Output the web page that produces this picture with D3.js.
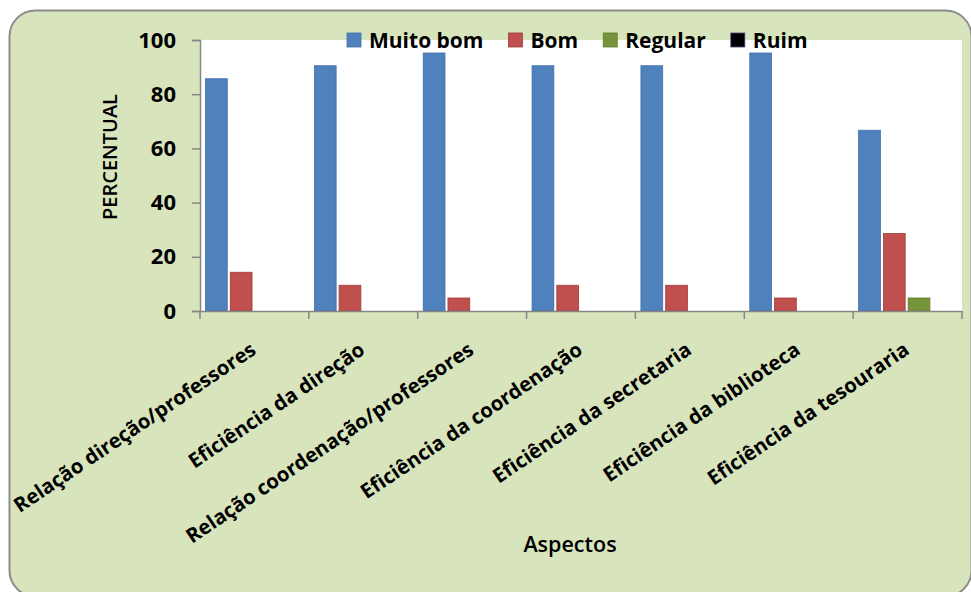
<!DOCTYPE html>
<html>
<head>
<meta charset="utf-8">
<script src="https://cdn.jsdelivr.net/npm/d3@7"></script>
<style>
  body { margin: 0; background: #fff; }
  text { font-family: "Open Sans", "DejaVu Sans", sans-serif; font-weight: 700; fill: #000; }
</style>
</head>
<body>
<svg class="chart" width="971" height="592"></svg>
<script>
const categories = ["Relação direção/professores", "Eficiência da direção", "Relação coordenação/professores",
  "Eficiência da coordenação", "Eficiência da secretaria", "Eficiência da biblioteca", "Eficiência da tesouraria"]
const seriesNames = ["Muito bom", "Bom", "Regular", "Ruim"]
const muitoBom = [85.7, 90.5, 95.2, 90.5, 90.5, 95.2, 66.7]
const bom = [14.3, 9.5, 4.8, 9.5, 9.5, 4.8, 28.6]
const regular = [0, 0, 0, 0, 0, 0, 4.8]
const ruim = [0, 0, 0, 0, 0, 0, 0]
const yTicks = [0, 20, 40, 60, 80, 100]

const colors = ["#4f81bd", "#c0504d", "#77933c", "#000000"]
const strokes = ["#3f6fa8", "#9c3b38", "#5f7a2e", "#000000"]

const values = [muitoBom, bom, regular, ruim]
const data = categories.map((c, i) => ({
  cat: c,
  vals: seriesNames.map((s, j) => ({ key: s, idx: j, value: values[j][i] }))
}))

var margin = { left: 200, top: 40, right: 9, bottom: 281 }
  , width = 971 - margin.left - margin.right
  , height = 592 - margin.top - margin.bottom

var svg = d3.select(".chart")

// frame
svg.append("rect")
  .attr("x", 9.5).attr("y", 10.5)
  .attr("width", 962).attr("height", 586)
  .attr("rx", 26).attr("ry", 26)
  .attr("fill", "#d8e4bc")
  .attr("stroke", "#8c8c8c")
  .attr("stroke-width", 2)

var graph = svg.append("g")
  .attr("transform", "translate(" + margin.left + "," + margin.top + ")")

graph.append("rect")
  .attr("width", width).attr("height", height)
  .attr("fill", "#fff")

var x0 = d3.scaleBand()
  .domain(categories)
  .range([0, width])

var x1 = d3.scaleBand()
  .domain(seriesNames)
  .range([5.5, 101.5])
  .paddingInner(0.12)

var y = d3.scaleLinear()
  .domain([0, 100])
  .range([height, 0])

// bars
const groups = graph.selectAll("g.cat")
  .data(data)
  .enter().append("g")
  .attr("class", "cat")
  .attr("transform", d => "translate(" + x0(d.cat) + ",0)")

groups.selectAll("rect")
  .data(d => d.vals.filter(v => v.value > 0))
  .enter().append("rect")
  .attr("x", d => x1(d.key))
  .attr("y", d => y(d.value))
  .attr("width", x1.bandwidth())
  .attr("height", d => y(0) - y(d.value))
  .attr("fill", d => colors[d.idx])
  .attr("stroke", d => strokes[d.idx])
  .attr("stroke-width", 0.8)

// y axis
const yAxis = graph.append("g")
  .call(d3.axisLeft(y).tickValues(yTicks).tickSize(8).tickPadding(16))
yAxis.select(".domain").attr("stroke", "#868686").attr("stroke-width", 1.5)
yAxis.selectAll(".tick line").attr("stroke", "#868686").attr("stroke-width", 1.5)
yAxis.selectAll("text")
  .style("font-size", "22px")
  .attr("fill", "#000")

// x axis
const xAxis = graph.append("g")
  .attr("transform", "translate(0," + height + ")")
  .call(d3.axisBottom(x0).tickSize(0).tickFormat(""))
xAxis.select(".domain").attr("stroke", "#868686").attr("stroke-width", 1.5)

graph.append("g")
  .selectAll("line")
  .data(d3.range(categories.length + 1))
  .enter().append("line")
  .attr("x1", i => i * x0.step())
  .attr("x2", i => i * x0.step())
  .attr("y1", height)
  .attr("y2", height + 8)
  .attr("stroke", "#868686")
  .attr("stroke-width", 1.5)

graph.append("g")
  .selectAll("text")
  .data(categories)
  .enter().append("text")
  .attr("text-anchor", "end")
  .attr("transform", d => "translate(" + (x0(d) + x0.bandwidth() / 2 + 3) + "," + (height + 42) + ") rotate(-34)")
  .style("font-size", "20.3px")
  .text(d => d)

// axis titles
svg.append("text")
  .attr("transform", "translate(117,157) rotate(-90)")
  .attr("text-anchor", "middle")
  .style("font-size", "20px")
  .style("font-weight", 600)
  .text("PERCENTUAL")

svg.append("text")
  .attr("x", 570).attr("y", 552)
  .attr("text-anchor", "middle")
  .style("font-size", "21.5px")
  .style("font-weight", 600)
  .text("Aspectos")

// legend
const legend = svg.append("g").attr("class", "legend")
let lx = 347
seriesNames.forEach((s, i) => {
  legend.append("rect")
    .attr("x", lx).attr("y", 33)
    .attr("width", 14).attr("height", 14)
    .attr("fill", colors[i])
    .attr("stroke", i === 3 ? "#4f3f7f" : strokes[i])
    .attr("stroke-width", 0.8)
  const t = legend.append("text")
    .attr("x", lx + 22).attr("y", 48)
    .style("font-size", "21px")
    .text(s)
  lx += 22 + t.node().getComputedTextLength() + 25
})
</script>
</body>
</html>
